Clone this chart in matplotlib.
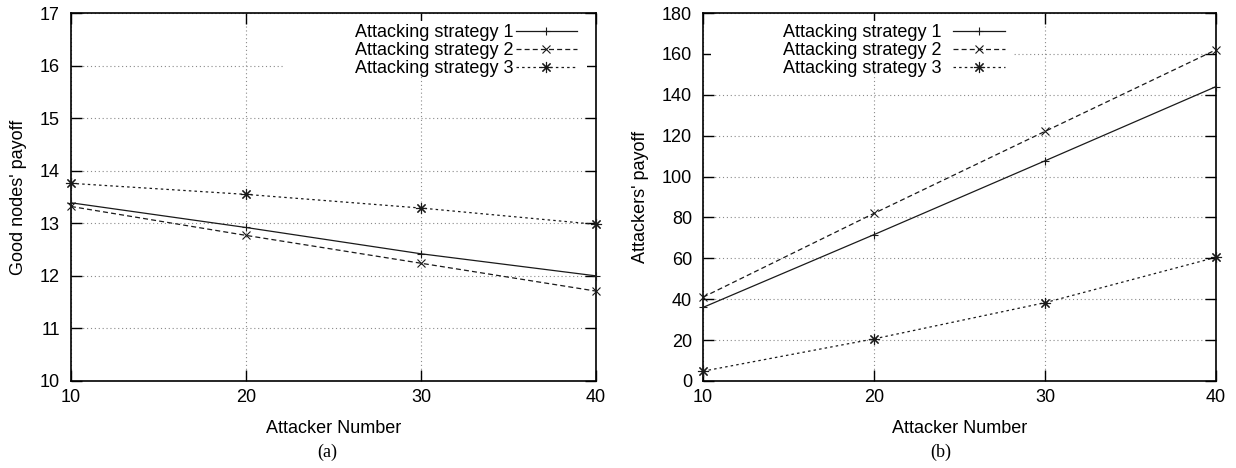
import matplotlib
matplotlib.use("Agg")
import matplotlib.pyplot as plt
from matplotlib.patches import Rectangle

FONT = "Liberation Sans"
SERIF = "Liberation Serif"
FONTSIZE = 13
GRID_COLOR = "#8a8a8a"
LINE_COLOR = "#1a1a1a"

ATTACKERS = [10, 20, 30, 40]
LABELS = ["Attacking strategy 1", "Attacking strategy 2", "Attacking strategy 3"]

GOOD_PAYOFF = [
    [13.39, 12.92, 12.42, 12.00],
    [13.32, 12.77, 12.24, 11.71],
    [13.76, 13.55, 13.29, 12.98],
]
ATTACKER_PAYOFF = [
    [36.0, 71.6, 107.7, 144.0],
    [41.0, 82.0, 122.1, 162.0],
    [4.8, 20.6, 38.3, 60.5],
]

STYLES = [
    dict(linestyle="-", marker="+", markersize=6),
    dict(linestyle=(0, (4, 2.5)), marker="x", markersize=5.5),
    dict(linestyle=(0, (2, 2.5)), marker=(8, 2, 0), markersize=8),
]

plt.rcParams["font.family"] = [FONT, "DejaVu Sans"]
plt.rcParams["font.size"] = FONTSIZE


def style_axes(ax, ylabel, ylim, yticks, ylabel_x):
    ax.set_xlim(10, 40)
    ax.set_xticks(ATTACKERS)
    ax.set_ylim(*ylim)
    ax.set_yticks(yticks)
    ax.set_axisbelow(True)
    ax.grid(True, color=GRID_COLOR, linestyle=(0, (1, 2.5)), linewidth=0.8)
    ax.tick_params(direction="in", length=8, width=1, top=True, right=True,
                   labelsize=FONTSIZE)
    ax.tick_params(axis="y", pad=8)
    ax.tick_params(axis="x", pad=6)
    for s in ax.spines.values():
        s.set_linewidth(1.2)
    ax.set_xlabel("Attacker Number", fontsize=FONTSIZE, va="center")
    ax.xaxis.set_label_coords(0.5, -0.128)
    ax.set_ylabel(ylabel, fontsize=FONTSIZE, va="center")
    ax.yaxis.set_label_coords(ylabel_x, 0.5)


def draw(ax, series):
    for ys, lab, st in zip(series, LABELS, STYLES):
        ax.plot(ATTACKERS, ys, color=LINE_COLOR, linewidth=0.9,
                markeredgewidth=0.8, label=lab, zorder=3, clip_on=False, **st)


fig = plt.figure(figsize=(12.36, 4.68), dpi=100)
ax1 = fig.add_axes([0.0574, 0.1859, 0.4248, 0.7863])
ax2 = fig.add_axes([0.5688, 0.1859, 0.4150, 0.7863])

draw(ax1, GOOD_PAYOFF)
style_axes(ax1, "Good nodes' payoff", (10, 17), range(10, 18), -0.100)
ax1.add_patch(Rectangle((0.406, 0.845), 0.576, 0.133, transform=ax1.transAxes,
                        facecolor="white", edgecolor="none", zorder=1))
ax1.legend(loc="upper right", bbox_to_anchor=(0.964, 0.970), frameon=False,
           markerfirst=False, borderpad=0, borderaxespad=0, handlelength=3.4,
           handletextpad=0.1, labelspacing=0.05, numpoints=1,
           fontsize=FONTSIZE)

draw(ax2, ATTACKER_PAYOFF)
style_axes(ax2, "Attackers' payoff", (0, 180), range(0, 181, 20), -0.121)
ax2.add_patch(Rectangle((0.016, 0.845), 0.588, 0.133, transform=ax2.transAxes,
                        facecolor="white", edgecolor="none", zorder=1))
ax2.legend(loc="upper left", bbox_to_anchor=(0.156, 0.970), frameon=False,
           markerfirst=False, borderpad=0, borderaxespad=0, handlelength=2.9,
           handletextpad=0.64, labelspacing=0.05, numpoints=1,
           fontsize=FONTSIZE)

fig.text(327 / 1236, 1 - 452 / 468, "(a)", family=SERIF, fontsize=FONTSIZE,
         ha="center", va="center")
fig.text(941 / 1236, 1 - 452 / 468, "(b)", family=SERIF, fontsize=FONTSIZE,
         ha="center", va="center")

fig.savefig("out.png", dpi=100)
